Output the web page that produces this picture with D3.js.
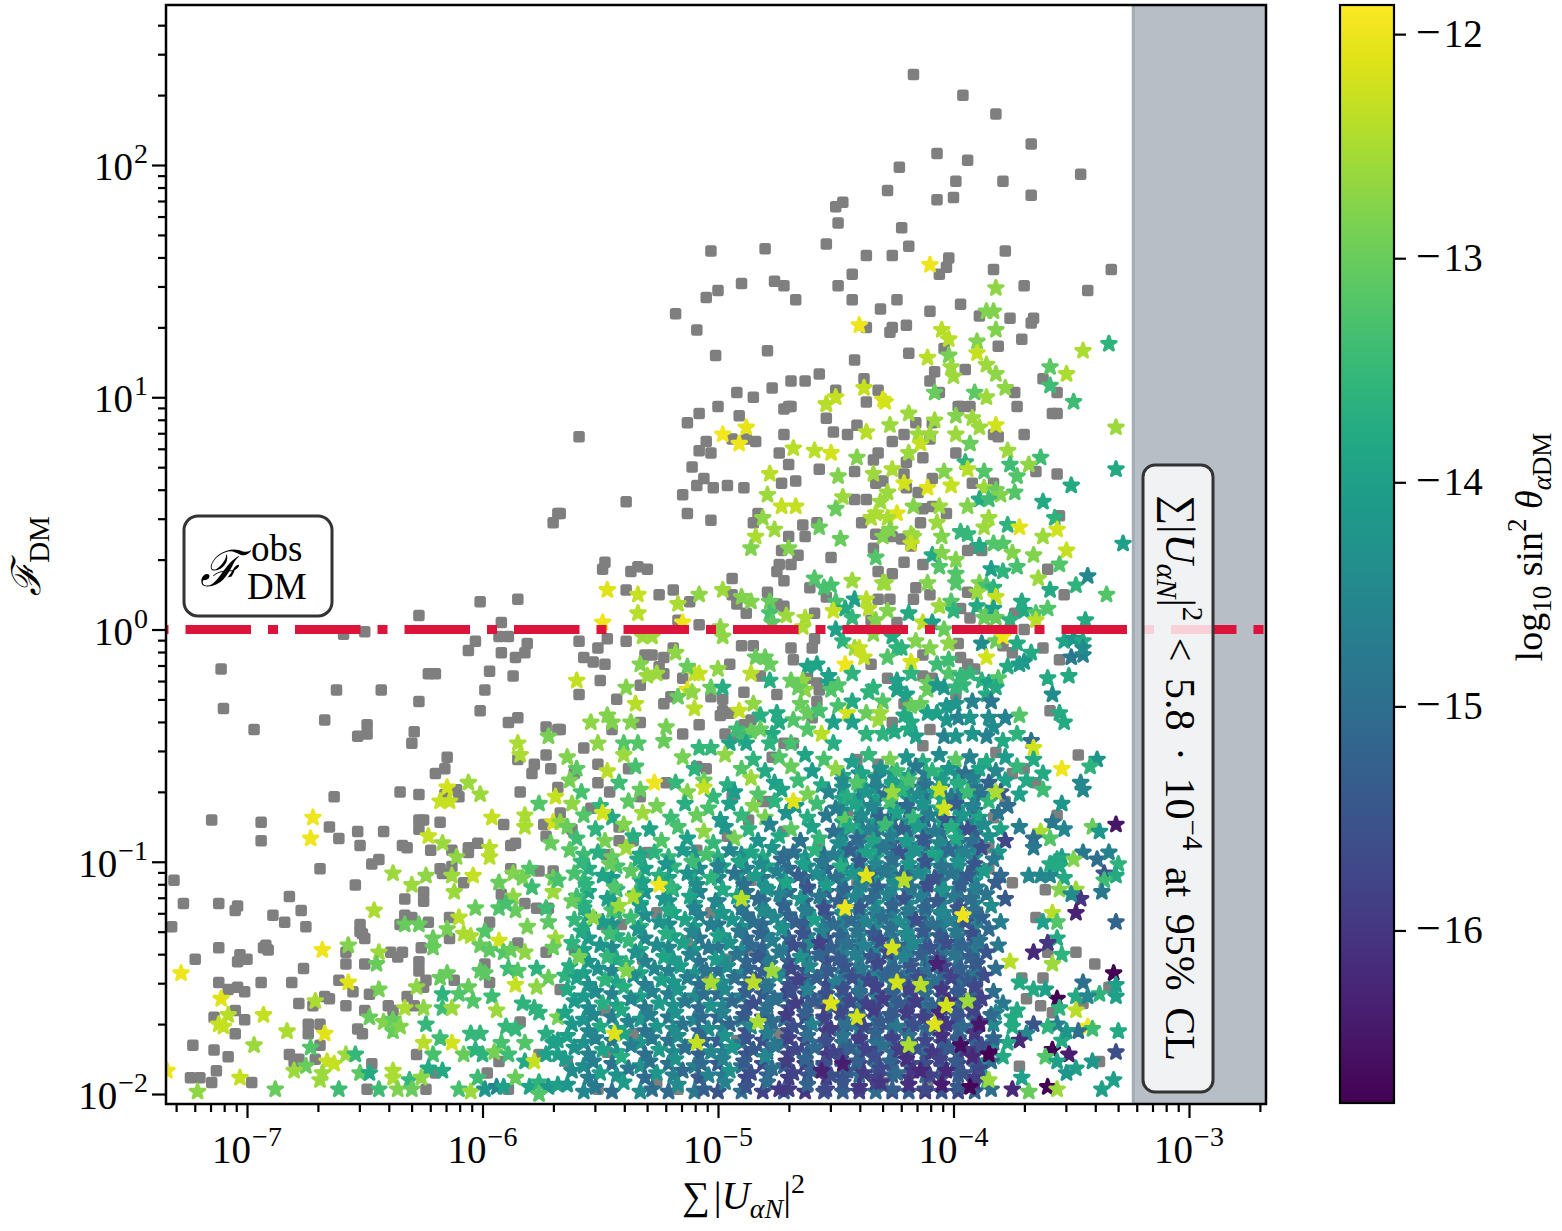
<!DOCTYPE html>
<html>
<head>
<meta charset="utf-8">
<title>F_DM vs sum |U|^2</title>
<style>
  html, body { margin: 0; padding: 0; background: #fff; }
  text { font-family: "Liberation Serif", "DejaVu Serif", serif; fill: #000; }
</style>
</head>
<body>
<script src="https://d3js.org/d3.v7.min.js"></script>
<script>
// ---- data (log10 values) ----
// grey squares: [log10 sum|U|^2, log10 F_DM]
var greySquares = [
 [-4.17,2.39],[-3.96,2.30],[-3.82,2.22],[-3.67,2.09],[-4.07,2.05],[-3.94,2.02],[-4.23,1.99],[-3.99,1.93],[-3.79,1.93],[-3.46,1.96],
 [-4.28,1.89],[-4.07,1.85],[-4.00,1.86],[-3.67,1.87],[-4.47,1.84],[-4.50,1.82],[-4.49,1.75],[-4.22,1.73],[-4.54,1.66],[-4.19,1.65],
 [-4.26,1.61],[-4.37,1.61],[-4.02,1.60],[-4.03,1.56],[-4.06,1.53],[-3.83,1.55],[-3.78,1.63],[-5.03,1.63],[-4.80,1.64],[-4.43,1.53],
 [-3.33,1.55],[-3.70,1.48],[-3.43,1.46],[-4.90,1.49],[-4.76,1.50],[-4.72,1.48],[-5.00,1.46],[-5.05,1.43],[-4.67,1.42],[-4.49,1.48],
 [-4.43,1.42],[-4.24,1.42],[-4.31,1.38],[-4.10,1.37],[-3.97,1.40],[-3.89,1.35],[-3.76,1.34],[-3.66,1.34],[-3.67,1.32],[-5.18,1.36],
 [-5.09,1.29],[-4.37,1.30],[-4.26,1.30],[-4.27,1.28],[-4.20,1.31],[-3.71,1.25],[-3.81,1.22],[-5.01,1.18],[-4.79,1.20],[-4.42,1.16],
 [-4.19,1.19],[-4.04,1.21],[-3.95,1.12],[-4.08,1.11],[-4.10,1.07],[-4.06,1.02],[-3.62,1.08],[-3.56,1.02],[-3.74,1.02],[-4.57,1.10],
 [-4.63,1.07],[-4.69,1.07],[-4.77,1.04],[-4.92,1.02],[-4.85,1.00],[-4.38,1.08],[-4.32,1.03],[-4.50,1.03],[-4.37,0.98],[-3.98,0.96],
 [-3.93,0.96],[-3.73,0.96],[-5.00,0.96],[-4.70,0.96],
 [-5.68,0.50],[-5.70,0.46],[-6.01,0.12],[-5.85,0.13],[-6.27,0.06],[-5.92,0.03],[-6.59,-0.02],[-6.50,-0.01],[-6.03,-0.05],[-5.93,-0.03],
 [-5.89,-0.03],[-5.81,-0.06],[-6.06,-0.09],[-5.92,-0.10],[-5.86,-0.12],[-5.82,-0.10],[-7.11,-0.17],[-5.97,-0.18],[-5.87,-0.20],[-6.23,-0.19],
 [-6.20,-0.19],[-6.62,-0.26],[-6.43,-0.26],[-5.99,-0.26],[-6.27,-0.31],[-7.10,-0.34],[-6.01,-0.35],[-6.67,-0.39],[-6.97,-0.43],[-6.49,-0.41],
 [-6.53,-0.46],[-6.49,-0.45],[-6.29,-0.44],[-6.30,-0.49],[-5.89,-0.40],[-5.85,-0.38],[-5.73,-0.42],[-5.68,-0.43],
 [-6.15,-0.55],[-6.20,-0.62],[-6.16,-0.60],[-5.85,-0.56],[-5.78,-0.58],[-5.79,-0.62],[-5.73,-0.54],[-5.71,-0.60],[-6.35,-0.70],[-6.27,-0.71],
 [-6.63,-0.72],[-6.11,-0.69],[-6.10,-0.72],[-6.16,-0.71],[-5.84,-0.70],[-5.68,-0.68],[-7.15,-0.82],[-6.94,-0.83],[-6.94,-0.91],[-6.65,-0.85],
 [-6.61,-0.90],[-6.53,-0.87],[-6.52,-0.93],[-6.42,-0.87],[-6.27,-0.82],[-6.25,-0.82],[-6.27,-0.86],[-6.18,-0.83],[-6.34,-0.93],[-6.32,-0.94],
 [-6.22,-0.95],[-6.13,-0.95],[-6.06,-0.94],[-6.06,-0.96],[-6.02,-0.92],[-5.91,-0.84],[-5.74,-0.84],[-5.73,-0.89],[-5.88,-0.93],[-5.86,-0.92],
 [-5.67,-0.79],[-6.47,-1.01],[-6.44,-0.99],[-6.69,-1.03],[-6.54,-1.10],[-6.18,-1.03],[-6.17,-1.05],[-6.13,-1.02],[-6.08,-1.09],[-5.88,-1.03],
 [-5.76,-1.04],[-5.70,-1.04],[-7.31,-1.08],[-7.27,-1.18],[-7.12,-1.18],[-7.04,-1.19],[-7.05,-1.21],[-6.82,-1.15],[-6.77,-1.21],[-6.89,-1.23],
 [-6.84,-1.26],[-6.75,-1.28],[-7.32,-1.28],[-6.33,-1.16],[-6.25,-1.13],[-6.25,-1.17],[-5.92,-1.14],[-5.82,-1.18],[-5.77,-1.20],[-5.72,-1.20],
 [-6.52,-1.27],[-6.52,-1.30],[-6.50,-1.33],[-6.51,-1.31],[-6.35,-1.27],[-6.30,-1.24],[-6.33,-1.23],[-6.23,-1.26],[-6.14,-1.24],[-6.14,-1.33],
 [-5.97,-1.26],[-5.85,-1.35],[-5.73,-1.39],[-7.12,-1.37],[-7.22,-1.42],[-7.04,-1.43],[-7.00,-1.42],[-7.03,-1.40],[-6.93,-1.37],[-6.91,-1.38],
 [-6.92,-1.36],[-6.76,-1.46],[-6.58,-1.39],[-6.58,-1.44],[-6.50,-1.44],[-6.39,-1.39],[-6.34,-1.39],[-6.36,-1.41],[-6.26,-1.37],[-6.27,-1.43],
 [-6.27,-1.47],[-5.99,-1.44],[-5.97,-1.52],[-7.12,-1.52],[-7.08,-1.55],[-7.04,-1.54],[-7.01,-1.56],[-6.94,-1.52],[-6.81,-1.52],[-6.61,-1.51],
 [-6.55,-1.56],[-6.67,-1.58],[-6.65,-1.59],[-6.48,-1.57],[-6.78,-1.61],[-6.72,-1.62],[-6.58,-1.62],[-6.50,-1.64],[-6.40,-1.62],[-6.38,-1.64],
 [-6.32,-1.58],[-6.29,-1.62],[-6.25,-1.54],[-6.24,-1.51],[-6.12,-1.51],[-7.05,-1.64],[-7.14,-1.67],[-7.01,-1.68],[-7.05,-1.74],[-6.74,-1.70],
 [-6.74,-1.74],[-6.69,-1.70],[-6.53,-1.72],[-6.51,-1.74],[-7.23,-1.79],[-7.14,-1.81],[-7.08,-1.84],[-6.69,-1.79],[-6.82,-1.83],[-6.78,-1.85],
 [-6.80,-1.86],[-7.24,-1.93],[-7.20,-1.93],[-7.13,-1.90],[-7.15,-1.95],[-6.98,-1.95],[-6.71,-1.85],[-6.47,-1.87],[-6.28,-1.83],[-6.20,-1.91],
 [-6.24,-1.98],[-6.49,-1.98],[-5.98,-1.91],[-5.89,-1.98],[-5.93,-1.86],[-5.84,-1.69],[-5.76,-1.83],
 [-5.59,0.83],[-5.13,0.89],[-5.08,0.93],[-4.91,0.92],[-5.05,0.81],[-5.08,0.77],[-5.03,0.76],[-4.94,0.82],[-4.88,0.82],[-4.84,0.81],
 [-5.11,0.70],[-5.06,0.65],[-5.09,0.62],[-5.02,0.61],[-4.96,0.62],[-4.89,0.61],[-5.15,0.58],[-5.39,0.55],[-5.67,0.50],[-5.13,0.50],
 [-5.03,0.47],[-4.74,0.76],[-4.72,0.84],[-4.72,0.95],[-4.69,0.96],[-4.54,0.91],[-4.51,0.85],[-4.45,0.84],[-4.41,0.88],[-4.70,0.71],
 [-4.73,0.63],[-4.67,0.64],[-4.57,0.69],[-4.83,0.50],[-4.85,0.46],[-4.64,0.45],[-4.70,0.40],[-4.63,0.40],[-4.58,0.46],[-4.42,0.56],
 [-4.42,0.68],[-4.73,0.34],[-4.66,0.32],[-4.74,0.28],[-4.69,0.28],[-4.75,0.25],[-4.72,0.21],[-4.52,0.31],[-5.48,0.29],[-5.49,0.26],
 [-5.37,0.25],[-5.34,0.27],[-5.30,0.26],[-5.39,0.17],[-5.25,0.15],[-5.19,0.17],[-5.12,0.12],[-4.94,0.22],[-4.94,0.15],[-4.79,0.16],
 [-4.92,0.11],[-4.88,0.07],[-4.75,0.11],[-4.72,0.10],[-4.61,0.18],[-4.54,0.14],[-4.59,0.07],[-5.17,0.04],[-5.08,0.02],[-5.59,-0.05],
 [-5.47,-0.04],[-5.39,-0.05],[-5.51,-0.08],[-5.57,-0.12],[-5.53,-0.14],[-5.48,-0.15],[-5.31,-0.11],[-5.28,-0.11],[-5.23,-0.12],[-5.19,-0.08],
 [-5.25,-0.16],[-5.23,-0.19],[-5.15,-0.21],[-4.90,-0.07],[-4.85,-0.07],[-4.69,-0.08],[-4.60,-0.08],[-4.59,-0.04],[-4.95,-0.15],[-4.68,-0.13],
 [-4.82,-0.20],[-4.62,-0.21],[-4.58,-0.23],[-4.57,-0.26],[-5.50,-0.22],[-5.33,-0.24],[-5.59,-0.28],[-5.43,-0.30],[-5.23,-0.32],[-5.20,-0.29],
 [-5.03,-0.29],[-4.98,-0.30],[-4.89,-0.27],[-4.75,-0.28],[-4.98,-0.35],[-4.99,-0.37],[-4.95,-0.36],[-5.08,-0.41],[-5.15,-0.45],[-4.97,-0.45],
 [-5.45,-0.43],[-5.33,-0.40],[-5.67,-0.43],[-5.57,-0.51],[-4.92,-0.46],[-4.86,-0.39],[-4.89,-0.41],[-4.72,-0.49],[-4.68,-0.49],[-4.60,-0.38],
 [-4.58,-0.31],
 [-3.97,0.96],[-3.58,0.93],[-3.56,0.93],[-4.16,0.89],[-4.21,0.84],[-4.26,0.81],[-4.10,0.82],[-4.09,0.89],[-3.83,0.84],[-3.81,0.83],
 [-3.70,0.84],[-3.99,0.76],[-4.32,0.76],[-4.34,0.73],[-4.20,0.72],[-4.13,0.74],[-4.30,0.64],[-4.33,0.63],[-4.21,0.67],[-4.09,0.65],
 [-3.92,0.63],[-3.83,0.63],[-3.65,0.68],[-3.56,0.67],[-4.15,0.59],[-4.37,0.56],[-4.20,0.61],[-4.13,0.52],[-4.09,0.53],[-4.03,0.50],
 [-4.14,0.46],[-4.39,0.46],[-3.55,0.49],[-4.33,0.41],[-4.26,0.40],[-4.22,0.39],[-4.18,0.36],[-4.34,0.35],[-3.94,0.34],[-3.91,0.35],
 [-3.88,0.34],[-4.21,0.29],[-4.13,0.28],[-4.32,0.25],[-4.26,0.24],[-3.60,0.26],[-4.16,0.18],[-4.10,0.15],[-4.32,0.13],[-4.27,0.13],
 [-4.17,0.13],[-3.94,0.16],[-3.53,0.15],[-3.97,0.09],[-3.93,0.05],[-3.74,0.07],[-4.35,0.04],[-4.24,0.03],[-3.70,0.00],[-3.98,-0.06],
 [-3.79,-0.07],[-3.75,-0.10],[-3.62,-0.08],[-3.55,-0.13],[-4.13,-0.11],[-3.97,-0.12],[-3.94,-0.15],[-4.35,-0.15],[-4.28,-0.21],[-4.13,-0.20],
 [-4.09,-0.21],[-3.91,-0.17],[-4.21,-0.32],[-3.99,-0.28],[-3.59,-0.35],[-4.26,-0.40],[-4.10,-0.43],[-4.13,-0.50],
 [-5.61,-0.62],[-5.51,-0.66],[-5.46,-0.70],[-5.51,-0.58],[-5.38,-0.60],[-5.33,-0.72],[-5.54,-0.77],[-5.62,-0.86],[-5.42,-0.85],[-5.42,-0.91],
 [-5.36,-0.91],[-5.30,-0.96],[-5.47,-0.97],[-5.09,-0.95],[-5.22,-0.66],[-5.09,-0.59],[-5.05,-0.60],[-4.94,-0.72],[-4.81,-0.74],[-4.78,-0.74],
 [-4.87,-0.82],[-4.96,-0.89],[-4.86,-1.08],[-4.72,-0.87],[-4.57,-0.92],[-4.45,-0.79],[-4.41,-0.56],[-4.77,-0.55],[-5.41,-1.27],[-5.61,-1.38],
 [-5.49,-1.27],[-5.32,-1.42],[-5.67,-1.55],[-5.48,-1.64],[-5.36,-1.74],[-5.26,-1.22],[-5.13,-1.34],[-5.03,-1.22],[-4.96,-1.42],[-4.86,-1.38],
 [-5.05,-1.48],[-4.57,-1.61],[-4.48,-1.63],[-5.08,-1.93],[-5.17,-1.98],[-5.51,-1.98],[-5.26,-1.95],[-5.64,-1.86],[-5.47,-1.82],[-5.30,-1.64],
 [-4.69,-1.46],[-4.74,-1.74],[-4.92,-1.77],[-4.48,-1.37],[-4.41,-1.09],
 [-3.47,-0.54],[-3.70,-0.60],[-3.75,-0.62],[-3.65,-0.66],[-3.91,-0.63],[-3.82,-0.53],[-4.21,-0.67],[-4.13,-0.66],[-4.32,-0.58],[-3.78,-0.74],
 [-3.83,-0.81],[-3.56,-0.80],[-4.37,-0.88],[-3.85,-0.94],[-3.85,-1.03],[-3.75,-1.09],[-3.61,-1.12],[-3.65,-1.24],[-3.48,-1.39],[-3.40,-1.44],
 [-3.60,-1.39],[-3.71,-1.50],[-3.62,-1.50],[-3.69,-1.59],[-3.63,-1.62],[-3.58,-1.65],[-3.45,-1.61],[-3.34,-1.54],[-3.38,-1.86],[-3.72,-1.88],
 [-3.91,-1.35],[-4.11,-1.64],[-4.04,-1.37],[-4.22,-1.38],[-4.38,-1.10],[-4.30,-1.95],[-4.11,-1.95],[-3.90,-1.55]
];

// stars: [log10 sum|U|^2, log10 F_DM, log10 sin^2 theta]
var sparseStars = [
 [-4.10,1.57,-12.0],[-4.40,1.31,-12.0],[-3.82,1.47,-12.7],[-3.86,1.37,-12.8],[-3.83,1.37,-12.8],[-4.05,1.29,-12.4],[-4.02,1.25,-12.4],[-3.90,1.24,-12.8],
 [-3.90,1.19,-12.3],[-3.82,1.29,-12.8],[-3.45,1.20,-12.5],[-3.34,1.23,-13.6],[-4.11,1.17,-12.4],[-4.02,1.18,-12.9],[-4.01,1.13,-12.6],[-4.00,1.09,-12.6],
 [-3.86,1.14,-12.6],[-3.82,1.10,-12.7],[-3.59,1.13,-13.1],[-3.52,1.10,-12.5],[-3.59,1.05,-13.4],[-3.78,1.04,-12.7],[-3.91,1.02,-13.1],[-3.86,1.00,-12.6],
 [-4.08,1.02,-13.0],[-3.49,0.98,-13.4],[-4.38,1.04,-12.3],[-4.50,1.00,-12.3],[-4.54,0.97,-12.4],[-4.30,0.99,-12.1],
 [-5.85,-0.49,-12.5],[-5.72,-0.46,-12.9],
 [-6.72,-0.81,-12.0],[-6.73,-0.90,-12.0],[-6.15,-0.68,-12.2],[-6.18,-0.74,-12.3],[-6.14,-0.74,-12.3],[-6.06,-0.66,-12.6],[-6.01,-0.71,-12.6],[-5.84,-0.54,-12.5],
 [-5.69,-0.72,-12.3],[-5.76,-0.75,-13.2],[-5.96,-0.81,-12.3],[-5.82,-0.80,-12.5],[-5.82,-0.85,-12.5],[-5.70,-0.83,-12.2],[-5.67,-0.83,-12.7],[-5.71,-0.92,-13.0],
 [-6.23,-0.89,-12.3],[-6.17,-0.92,-12.6],[-6.11,-0.98,-12.7],[-5.97,-0.94,-12.4],[-5.97,-0.98,-12.4],[-6.38,-1.05,-12.6],[-6.30,-1.10,-12.6],[-6.24,-1.06,-12.7],
 [-6.13,-1.06,-12.6],[-6.04,-1.06,-12.3],[-6.12,-1.13,-12.6],[-5.93,-1.09,-13.0],[-5.87,-1.05,-12.8],[-5.80,-1.03,-13.2],[-5.83,-1.07,-12.9],[-5.79,-1.11,-13.4],
 [-5.87,-1.15,-12.7],[-5.70,-1.07,-13.0],[-5.70,-1.13,-12.6],[-5.68,-1.08,-13.3],[-6.46,-1.21,-12.5],[-6.03,-1.20,-13.0],[-6.10,-1.24,-12.4],[-5.93,-1.20,-13.2],
 [-5.86,-1.21,-13.0],[-5.90,-1.18,-13.3],[-5.73,-1.20,-13.4],[-5.72,-1.26,-13.1],[-6.33,-1.27,-13.0],[-6.27,-1.27,-13.0],[-6.15,-1.29,-12.9],[-6.08,-1.31,-12.5],
 [-6.05,-1.32,-12.5],[-6.21,-1.33,-13.0],[-6.21,-1.37,-13.0],[-5.99,-1.30,-13.2],[-5.93,-1.34,-12.2],[-6.01,-1.36,-13.0],[-5.97,-1.38,-13.1],[-5.91,-1.39,-13.2],
 [-5.88,-1.38,-13.0],[-5.81,-1.28,-12.9],[-5.69,-1.33,-12.6],[-5.70,-1.37,-13.0],[-5.82,-1.39,-12.7],[-6.57,-1.36,-12.8],[-6.68,-1.38,-12.0],[-6.44,-1.39,-12.6],
 [-6.45,-1.44,-13.0],[-7.28,-1.48,-12.0],[-6.57,-1.52,-12.1],[-6.44,-1.55,-12.9],[-6.28,-1.54,-12.7],[-6.18,-1.50,-13.0],[-6.15,-1.48,-13.0],[-6.06,-1.54,-13.0],
 [-6.01,-1.47,-13.1],[-5.99,-1.48,-13.1],[-5.89,-1.46,-13.4],[-5.85,-1.47,-13.2],[-5.77,-1.46,-13.6],[-5.86,-1.53,-12.3],[-5.77,-1.54,-12.7],[-5.72,-1.50,-13.0],
 [-5.65,-1.49,-13.6],[-7.11,-1.59,-12.1],[-7.08,-1.66,-12.4],[-7.12,-1.70,-12.3],[-7.10,-1.71,-12.3],[-6.93,-1.66,-12.3],[-6.71,-1.60,-12.5],[-6.83,-1.73,-12.5],
 [-6.67,-1.74,-12.1],[-6.97,-1.79,-12.6],[-6.73,-1.80,-13.2],[-6.48,-1.67,-13.0],[-6.42,-1.69,-12.8],[-6.38,-1.68,-13.0],[-6.38,-1.73,-13.0],[-6.35,-1.71,-12.8],
 [-6.33,-1.63,-12.5],[-6.25,-1.63,-12.7],[-6.24,-1.70,-13.5],[-6.17,-1.57,-13.6],[-6.17,-1.63,-13.4],[-6.13,-1.63,-12.6],[-6.10,-1.57,-13.2],[-6.04,-1.60,-13.2],
 [-5.96,-1.58,-13.4],[-5.94,-1.64,-12.6],[-5.90,-1.71,-13.5],[-5.86,-1.72,-13.5],[-5.83,-1.61,-13.6],[-5.78,-1.63,-13.6],[-5.76,-1.65,-13.6],[-5.68,-1.67,-12.9],
 [-5.73,-1.74,-13.7],[-5.70,-1.78,-14.0],[-5.68,-1.77,-14.0],[-5.82,-1.78,-13.2],[-5.92,-1.78,-13.3],[-6.05,-1.74,-13.5],[-6.01,-1.74,-13.5],[-6.13,-1.78,-12.2],
 [-6.18,-1.76,-13.4],[-6.25,-1.78,-12.4],[-6.21,-1.83,-13.3],[-6.17,-1.90,-13.8],[-6.23,-1.89,-13.8],[-6.08,-1.83,-13.0],[-6.03,-1.81,-13.6],[-6.00,-1.83,-13.6],
 [-5.95,-1.82,-12.9],[-5.89,-1.83,-13.4],[-5.82,-1.86,-13.8],[-5.78,-1.86,-12.3],[-5.73,-1.83,-14.0],[-5.68,-1.83,-14.0],[-6.75,-1.88,-13.0],[-6.80,-1.90,-12.6],
 [-6.66,-1.86,-12.3],[-6.63,-1.87,-12.3],[-6.58,-1.83,-12.6],[-6.54,-1.83,-13.5],[-6.52,-1.91,-13.1],[-6.48,-1.91,-13.8],[-6.69,-1.94,-12.6],[-6.68,-1.91,-12.6],
 [-6.61,-1.98,-13.4],[-6.38,-1.90,-12.5],[-6.38,-1.93,-12.5],[-7.03,-1.93,-12.3],[-7.21,-1.99,-12.7],[-6.88,-1.98,-13.0],[-6.44,-1.98,-13.4],[-6.36,-1.98,-12.8],
 [-6.31,-1.94,-13.5],[-6.30,-1.98,-13.0],[-6.26,-1.93,-12.7],[-6.10,-1.98,-13.3],[-6.05,-1.99,-12.6],[-6.02,-1.93,-13.4],[-5.99,-1.98,-14.2],[-5.94,-1.97,-14.5],
 [-5.91,-1.97,-14.0],[-5.86,-1.93,-13.0],[-5.80,-1.97,-13.9],[-5.76,-1.95,-13.6],[-5.72,-1.97,-14.2],[-5.68,-1.96,-14.0],[-5.76,-2.00,-13.2],[-7.34,-1.90,-12.0],
 [-4.98,0.84,-11.95],[-4.88,0.87,-12.05],[-4.91,0.80,-12.0],[-4.68,0.78,-12.4],[-4.59,0.77,-12.4],[-4.52,0.76,-12.2],[-4.54,0.97,-12.4],[-4.41,0.74,-12.8],
 [-4.78,0.67,-12.4],[-4.49,0.66,-12.8],[-4.79,0.58,-12.6],[-4.73,0.53,-12.3],[-4.67,0.53,-12.3],[-4.47,0.57,-12.6],[-4.50,0.52,-13.0],[-4.81,0.48,-12.7],
 [-4.76,0.43,-12.6],[-4.84,0.40,-12.5],[-4.86,0.35,-12.8],[-4.70,0.35,-12.8],[-4.57,0.44,-13.0],[-4.48,0.39,-13.0],[-4.59,0.22,-13.2],[-4.52,0.19,-13.3],
 [-4.55,0.18,-13.3],[-4.43,0.21,-12.6],[-4.42,0.13,-14.0],[-4.50,0.12,-13.3],[-4.46,0.09,-13.8],[-4.43,0.05,-13.5],[-4.51,0.08,-12.3],[-5.47,0.17,-12.1],
 [-5.34,0.15,-12.3],[-5.34,0.07,-12.4],[-5.49,0.03,-12.0],[-5.17,0.11,-12.5],[-5.08,0.15,-12.7],[-4.98,0.17,-12.6],[-4.90,0.14,-12.8],[-4.86,0.12,-12.8],
 [-4.78,0.12,-13.0],[-4.78,0.07,-13.3],[-4.71,0.06,-12.6],[-4.63,0.05,-12.5],[-4.64,0.01,-12.5],[-4.77,0.03,-13.1],[-4.99,0.01,-12.7],[-4.98,-0.03,-12.7],
 [-5.15,0.03,-12.0],[-5.28,-0.03,-12.6],[-5.32,-0.03,-12.6],[-4.50,0.00,-14.0],[-4.47,-0.05,-13.6],[-4.42,-0.08,-12.6],[-4.46,-0.15,-12.0],[-4.43,-0.19,-13.6],
 [-4.62,-0.16,-13.9],[-4.58,-0.15,-13.9],[-4.53,-0.20,-14.0],[-4.53,-0.23,-14.0],[-4.49,-0.24,-13.2],[-4.52,-0.26,-13.2],[-4.64,-0.22,-12.7],[-4.63,-0.26,-12.7],
 [-4.69,-0.22,-13.0],[-4.66,-0.25,-13.0],[-4.78,-0.22,-13.7],[-4.84,-0.12,-13.0],[-4.80,-0.12,-13.0],[-4.78,-0.15,-13.0],[-4.86,-0.19,-12.4],[-5.03,-0.25,-13.0],
 [-4.98,-0.25,-13.7],[-5.00,-0.17,-12.7],[-5.10,-0.19,-12.3],[-5.08,-0.19,-12.3],[-5.13,-0.16,-13.0],[-5.18,-0.10,-12.7],[-5.33,-0.15,-12.8],[-5.30,-0.20,-12.6],
 [-5.26,-0.19,-12.6],[-5.39,-0.25,-12.8],[-5.60,-0.22,-12.3],[-5.13,-0.26,-12.1],[-5.11,-0.27,-12.7],[-5.17,-0.29,-13.0],[-5.35,-0.32,-12.4],[-5.10,-0.34,-12.4],
 [-4.91,-0.35,-12.3],[-4.85,-0.32,-12.7],[-4.82,-0.37,-13.7],[-4.75,-0.36,-13.8],[-4.65,-0.32,-13.0],[-4.62,-0.36,-13.0],[-4.57,-0.35,-13.3],[-4.49,-0.33,-13.3],
 [-4.45,-0.36,-12.2],[-4.43,-0.31,-13.8],[-4.51,-0.40,-14.0],[-4.43,-0.40,-14.0],[-4.56,-0.45,-12.4],[-4.68,-0.39,-13.2],[-4.62,-0.43,-13.2],[-4.74,-0.40,-13.8],
 [-4.77,-0.45,-13.8],[-4.82,-0.43,-13.0],[-4.86,-0.44,-13.0],[-4.92,-0.43,-13.4],[-4.89,-0.47,-13.4],[-4.95,-0.49,-13.9],[-4.88,-0.49,-13.9],[-5.47,-0.37,-12.8],
 [-5.45,-0.40,-12.8],[-5.54,-0.40,-12.7],[-5.37,-0.40,-12.8],[-5.22,-0.42,-12.9],[-5.23,-0.48,-13.0],[-5.34,-0.49,-13.2],[-5.40,-0.49,-13.2],[-5.51,-0.49,-12.7],
 [-5.08,-0.51,-13.5],[-5.03,-0.51,-13.5],[-4.78,-0.49,-13.6],[-4.69,-0.49,-13.3],[-4.51,-0.49,-13.7],
 [-4.29,0.98,-12.2],[-4.19,0.93,-12.6],[-4.27,0.88,-12.6],[-4.08,0.90,-12.6],[-3.99,0.92,-12.8],[-3.92,0.91,-12.6],[-3.89,0.87,-12.6],[-3.82,0.88,-12.2],
 [-4.37,0.85,-12.4],[-4.15,0.84,-12.6],[-4.14,0.80,-12.3],[-4.10,0.84,-12.6],[-3.99,0.84,-12.6],[-3.93,0.80,-13.0],[-3.77,0.77,-12.6],[-3.63,0.74,-13.4],
 [-3.31,0.87,-12.6],[-4.19,0.76,-12.6],[-3.95,0.72,-13.6],[-3.94,0.69,-12.4],[-3.76,0.71,-13.4],[-3.68,0.71,-12.7],[-3.73,0.66,-13.2],[-3.74,0.59,-13.2],
 [-4.26,0.69,-12.5],[-4.34,0.67,-12.6],[-4.21,0.63,-12.2],[-4.11,0.61,-12.1],[-4.01,0.62,-12.3],[-4.04,0.68,-12.8],[-3.87,0.68,-13.2],[-3.87,0.61,-12.6],
 [-3.82,0.60,-13.0],[-3.80,0.58,-12.8],[-3.89,0.56,-13.8],[-3.85,0.56,-13.4],[-4.28,0.59,-12.6],[-4.31,0.55,-12.6],[-4.17,0.53,-12.8],[-4.06,0.53,-12.6],
 [-3.94,0.53,-12.8],[-3.62,0.55,-13.8],[-3.50,0.62,-13.8],[-3.31,0.69,-13.8],[-4.24,0.50,-12.1],[-4.28,0.48,-12.5],[-4.35,0.48,-12.5],[-4.33,0.50,-12.5],
 [-4.07,0.46,-12.6],[-3.87,0.44,-12.6],[-3.85,0.48,-12.6],[-3.77,0.45,-13.6],[-3.72,0.44,-12.1],[-3.57,0.48,-13.6],[-3.56,0.43,-12.2],[-4.27,0.43,-12.8],
 [-4.30,0.40,-12.8],[-4.18,0.41,-12.6],[-4.17,0.40,-12.6],[-4.18,0.37,-12.3],[-4.05,0.40,-12.8],[-3.97,0.42,-13.5],[-3.94,0.41,-13.5],[-3.89,0.36,-13.8],
 [-3.83,0.37,-13.2],[-3.79,0.37,-13.2],[-3.75,0.33,-12.8],[-3.66,0.32,-12.8],[-3.62,0.40,-12.6],[-3.52,0.34,-12.3],[-3.55,0.28,-13.2],[-3.28,0.37,-14.0],
 [-4.33,0.31,-13.2],[-4.09,0.32,-13.8],[-4.05,0.33,-12.8],[-4.06,0.27,-13.2],[-3.99,0.30,-12.8],[-3.84,0.26,-14.0],[-3.79,0.25,-13.6],[-3.73,0.27,-13.3],
 [-3.64,0.22,-12.6],[-3.99,0.24,-13.2],[-3.99,0.20,-13.2],[-4.11,0.20,-12.8],[-4.30,0.20,-12.6],[-4.29,0.20,-12.6],[-3.89,0.20,-12.8],[-3.86,0.19,-13.3],
 [-3.83,0.18,-13.6],[-3.90,0.16,-12.6],[-3.82,0.14,-12.3],[-3.59,0.17,-13.8],[-3.48,0.19,-13.6],[-3.43,0.23,-14.5],[-3.35,0.15,-13.2],[-4.37,0.13,-12.4],
 [-4.36,0.09,-12.4],[-4.28,0.08,-12.8],[-4.19,0.07,-13.8],[-4.06,0.10,-12.6],[-4.01,0.12,-13.2],[-4.00,0.08,-13.6],[-3.90,0.10,-13.8],[-3.86,0.07,-13.2],
 [-3.83,0.09,-14.0],[-3.71,0.12,-13.8],[-3.70,0.08,-13.8],[-3.65,0.07,-13.2],[-3.60,0.09,-13.2],[-3.87,0.05,-13.0],[-3.82,0.05,-13.0],[-3.76,0.04,-13.6],
 [-3.65,0.04,-12.4],[-3.44,0.04,-13.8],[-4.33,0.04,-12.8],[-4.34,-0.02,-12.8],[-4.26,-0.03,-13.8],[-4.24,-0.08,-13.6],[-4.22,-0.08,-13.6],[-4.16,-0.05,-12.8],
 [-4.13,0.03,-12.4],[-4.09,0.03,-14.0],[-4.04,0.00,-13.0],[-4.10,-0.08,-12.8],[-4.02,-0.06,-12.7],[-3.88,-0.06,-14.4],[-3.82,-0.05,-13.0],[-3.79,-0.03,-12.0],
 [-3.73,-0.06,-13.8],[-3.67,-0.10,-13.8],[-3.70,-0.14,-14.2],[-3.53,-0.05,-13.9],[-3.49,-0.04,-14.2],[-3.45,-0.05,-13.8],[-3.50,-0.12,-14.8],[-3.45,-0.11,-14.6],
 [-3.45,-0.08,-14.4],[-4.38,-0.12,-12.3],[-4.40,-0.08,-12.3],[-4.28,-0.12,-13.2],[-4.18,-0.14,-12.2],[-4.18,-0.19,-13.6],[-4.07,-0.15,-13.4],[-4.02,-0.13,-13.4],
 [-3.86,-0.12,-12.2],[-3.77,-0.16,-13.8],[-3.72,-0.15,-14.1],[-4.02,-0.19,-13.2],[-3.97,-0.20,-13.5],[-3.93,-0.19,-13.5],[-3.88,-0.22,-13.6],[-3.85,-0.23,-14.0],
 [-3.81,-0.21,-13.2],[-3.60,-0.21,-13.8],[-3.51,-0.20,-13.8],[-4.24,-0.22,-14.0],[-4.24,-0.26,-14.0],[-4.20,-0.28,-14.0],[-4.11,-0.23,-13.0],[-4.11,-0.26,-13.0],
 [-4.07,-0.24,-14.2],[-4.04,-0.25,-14.2],[-3.99,-0.25,-13.5],[-3.96,-0.24,-13.5],[-3.86,-0.28,-13.8],[-3.82,-0.25,-13.8],[-4.36,-0.27,-13.6],[-4.34,-0.25,-13.6],
 [-3.58,-0.28,-14.4],[-3.92,-0.31,-14.6],[-3.84,-0.31,-14.8],[-4.30,-0.31,-13.2],[-4.18,-0.33,-13.0],[-4.14,-0.32,-13.0],[-4.03,-0.33,-14.2],[-3.99,-0.32,-14.2],
 [-3.55,-0.36,-13.8],[-3.53,-0.40,-13.8],[-4.37,-0.36,-13.0],[-4.31,-0.36,-12.6],[-4.32,-0.39,-12.6],[-4.21,-0.37,-13.8],[-4.18,-0.40,-13.8],[-4.11,-0.36,-14.0],
 [-4.07,-0.36,-14.0],[-4.03,-0.39,-14.2],[-3.98,-0.38,-14.6],[-3.93,-0.38,-14.2],[-3.85,-0.38,-14.4],[-3.83,-0.42,-14.4],[-3.78,-0.38,-14.6],[-3.72,-0.37,-13.2],
 [-3.73,-0.45,-13.6],[-3.67,-0.48,-15.0],[-4.37,-0.45,-13.6],[-4.30,-0.45,-13.6],[-4.25,-0.44,-13.8],[-4.19,-0.43,-13.8],[-4.16,-0.46,-14.0],[-4.04,-0.46,-14.6],
 [-3.99,-0.46,-14.2],[-3.92,-0.45,-14.2],[-3.86,-0.46,-14.6],[-3.79,-0.48,-13.8],[-3.66,-0.51,-12.2],
 [-3.54,-0.60,-12.0],[-3.39,-0.56,-14.2],[-3.42,-0.59,-13.6],[-3.46,-0.66,-14.5],[-3.45,-0.69,-14.5],[-3.54,-0.75,-14.2],[-3.62,-0.62,-13.8],[-3.66,-0.56,-13.8],
 [-3.69,-0.65,-13.8],[-3.62,-0.69,-13.4],[-3.31,-0.84,-16.5],[-3.41,-0.85,-13.0],[-3.38,-0.87,-14.2],[-3.58,-0.83,-14.8],[-3.53,-0.86,-14.5],[-3.63,-0.87,-12.5],
 [-3.59,-0.90,-13.2],[-3.66,-0.90,-15.0],[-3.66,-0.94,-14.8],[-3.45,-0.96,-14.8],[-3.39,-0.99,-15.0],[-3.34,-0.96,-14.6],[-3.30,-1.01,-13.6],[-3.36,-1.05,-15.5],
 [-3.31,-1.06,-13.8],[-3.36,-1.08,-13.4],[-3.37,-1.13,-14.8],[-3.54,-0.98,-14.0],[-3.49,-0.99,-12.8],[-3.55,-1.02,-13.8],[-3.53,-1.07,-13.8],[-3.59,-1.06,-14.5],
 [-3.63,-1.06,-14.5],[-3.68,-1.06,-14.5],[-3.56,-0.99,-13.8],[-3.59,-1.01,-13.8],[-3.48,-1.12,-12.6],[-3.55,-1.12,-12.8],[-3.46,-1.16,-16.0],[-3.48,-1.22,-16.3],
 [-3.50,-1.14,-14.4],[-3.58,-1.22,-12.4],[-3.56,-1.26,-13.2],[-3.62,-1.26,-14.0],[-3.31,-1.26,-15.2],[-3.56,-1.33,-13.8],[-3.60,-1.35,-16.0],[-3.66,-1.39,-16.2],
 [-3.54,-1.40,-13.6],[-3.58,-1.44,-12.6],[-3.32,-1.48,-16.8],[-3.31,-1.53,-14.0],[-3.45,-1.52,-15.0],[-3.38,-1.57,-13.6],[-3.31,-1.58,-14.0],[-3.48,-1.58,-13.8],
 [-3.43,-1.58,-14.5],[-3.56,-1.59,-16.8],[-3.55,-1.63,-13.6],[-3.48,-1.64,-12.4],[-3.61,-1.55,-14.0],[-3.66,-1.55,-13.8],[-3.72,-1.52,-13.8],[-3.43,-1.71,-12.0],
 [-3.41,-1.72,-13.4],[-3.47,-1.73,-15.0],[-3.30,-1.73,-13.8],[-3.31,-1.82,-15.6],[-3.41,-1.86,-14.2],[-3.51,-1.83,-16.4],[-3.48,-1.89,-14.0],[-3.52,-1.91,-14.2],
 [-3.58,-1.81,-16.8],[-3.61,-1.84,-13.2],[-3.56,-1.86,-14.0],[-3.60,-1.97,-17.0],[-3.56,-1.98,-12.6],[-3.68,-1.99,-13.0],[-3.75,-1.98,-16.2],[-3.71,-1.93,-14.0],
 [-3.37,-1.98,-14.0],[-3.32,-1.94,-14.0],[-3.54,-1.77,-13.8],[-3.52,-1.73,-14.2],[-3.56,-1.70,-14.6],[-3.60,-1.71,-13.6],[-3.66,-1.70,-15.5],[-3.69,-1.74,-14.5],
 [-3.72,-1.77,-16.2],[-3.75,-1.71,-13.8],[-3.75,-1.67,-13.8],[-3.73,-1.64,-13.8],[-3.79,-1.61,-14.8],[-3.82,-1.65,-14.5],[-3.83,-1.70,-14.5],[-3.77,-1.78,-13.8],
 [-3.79,-1.84,-13.8],[-3.83,-1.78,-14.5],[-3.85,-1.82,-16.8],[-3.88,-1.88,-14.2],[-3.86,-1.95,-13.6]
];

// stars filling the gaps of the crowded block (drawn underneath it)
var gapStarsLeft = [
 [-5.57,-0.97,-13.4],[-5.45,-0.98,-13.0],[-5.33,-0.97,-13.9],[-5.21,-0.98,-13.5],[-5.10,-0.97,-14.2],[-5.00,-0.98,-13.7],[-4.90,-0.97,-14.4],[-4.81,-0.98,-13.8],[-4.72,-0.97,-14.9],[-4.63,-0.98,-14.3],[-4.55,-0.97,-15.0],
 [-5.55,-1.03,-13.7],[-5.43,-1.02,-13.3],[-5.31,-1.03,-14.0],[-5.19,-1.02,-13.6],[-5.08,-1.03,-14.4],[-4.98,-1.02,-13.9],[-4.88,-1.03,-14.6],[-4.79,-1.02,-14.0],[-4.70,-1.03,-15.1],[-4.62,-1.02,-14.5],[-4.54,-1.03,-15.2],
 [-5.57,-1.08,-13.5],[-5.45,-1.07,-14.1],[-5.33,-1.08,-13.4],[-5.21,-1.07,-14.0],[-5.10,-1.08,-13.8],[-5.00,-1.07,-14.5],[-4.90,-1.08,-14.1],[-4.81,-1.07,-14.8],[-4.72,-1.08,-14.4],[-4.63,-1.07,-15.0],[-4.55,-1.08,-14.6],
 [-5.55,-1.13,-13.9],[-5.43,-1.12,-13.5],[-5.31,-1.13,-14.2],[-5.19,-1.12,-13.8],[-5.08,-1.13,-14.6],[-4.98,-1.12,-14.0],[-4.88,-1.13,-14.8],[-4.79,-1.12,-14.3],[-4.70,-1.13,-15.0],[-4.62,-1.12,-14.6],[-4.54,-1.13,-15.3],
 [-5.57,-1.18,-13.6],[-5.45,-1.17,-14.2],[-5.33,-1.18,-13.7],[-5.21,-1.17,-14.3],[-5.10,-1.18,-14.0],[-5.00,-1.17,-14.7],[-4.90,-1.18,-14.2],[-4.81,-1.17,-15.0],[-4.72,-1.18,-14.5],[-4.63,-1.17,-15.2],[-4.55,-1.18,-14.7],
 [-5.55,-1.23,-14.0],[-5.43,-1.22,-13.6],[-5.31,-1.23,-14.4],[-5.19,-1.22,-13.9],[-5.08,-1.23,-14.7],[-4.98,-1.22,-14.1],[-4.88,-1.23,-15.0],[-4.79,-1.22,-14.5],[-4.70,-1.23,-15.2],[-4.62,-1.22,-14.8],[-4.54,-1.23,-15.4],
 [-5.57,-1.28,-13.8],[-5.45,-1.27,-14.3],[-5.33,-1.28,-13.6],[-5.21,-1.27,-14.4],[-5.10,-1.28,-14.1],[-5.00,-1.27,-14.8],[-4.90,-1.28,-14.3],[-4.81,-1.27,-15.1],[-4.72,-1.28,-14.6],[-4.63,-1.27,-15.3],[-4.55,-1.28,-14.8],
 [-5.55,-1.33,-14.1],[-5.43,-1.32,-13.7],[-5.31,-1.33,-14.5],[-5.19,-1.32,-14.0],[-5.08,-1.33,-14.8],[-4.98,-1.32,-14.2],[-4.88,-1.33,-15.1],[-4.79,-1.32,-14.6],[-4.70,-1.33,-15.3],[-4.62,-1.32,-14.9],[-4.54,-1.33,-15.5],
 [-5.57,-1.38,-13.9],[-5.45,-1.37,-14.4],[-5.33,-1.38,-13.8],[-5.21,-1.37,-14.5],[-5.10,-1.38,-14.2],[-5.00,-1.37,-14.9],[-4.90,-1.38,-14.4],[-4.81,-1.37,-15.2],[-4.72,-1.38,-14.7],[-4.63,-1.37,-15.4],[-4.55,-1.38,-14.9],
 [-5.55,-1.43,-14.2],[-5.43,-1.42,-13.8],[-5.31,-1.43,-14.6],[-5.19,-1.42,-14.1],[-5.08,-1.43,-14.9],[-4.98,-1.42,-14.3],[-4.88,-1.43,-15.2],[-4.79,-1.42,-14.7],[-4.70,-1.43,-15.4],[-4.62,-1.42,-15.0],[-4.54,-1.43,-15.6],
 [-5.57,-1.48,-14.0],[-5.45,-1.47,-14.5],[-5.33,-1.48,-13.9],[-5.21,-1.47,-14.6],[-5.10,-1.48,-14.3],[-5.00,-1.47,-15.0],[-4.90,-1.48,-14.5],[-4.81,-1.47,-15.3],[-4.72,-1.48,-14.8],[-4.63,-1.47,-15.5],[-4.55,-1.48,-15.0],
 [-5.55,-1.53,-14.3],[-5.43,-1.52,-13.9],[-5.31,-1.53,-14.7],[-5.19,-1.52,-14.2],[-5.08,-1.53,-15.0],[-4.98,-1.52,-14.4],[-4.88,-1.53,-15.3],[-4.79,-1.52,-14.8],[-4.70,-1.53,-15.5],[-4.62,-1.52,-15.1],[-4.54,-1.53,-15.7],
 [-5.57,-1.58,-14.1],[-5.45,-1.57,-14.6],[-5.33,-1.58,-14.0],[-5.21,-1.57,-14.7],[-5.10,-1.58,-14.4],[-5.00,-1.57,-15.1],[-4.90,-1.58,-14.6],[-4.81,-1.57,-15.4],[-4.72,-1.58,-14.9],[-4.63,-1.57,-15.6],[-4.55,-1.58,-15.1],
 [-5.55,-1.63,-14.4],[-5.43,-1.62,-14.0],[-5.31,-1.63,-14.8],[-5.19,-1.62,-14.3],[-5.08,-1.63,-15.1],[-4.98,-1.62,-14.5],[-4.88,-1.63,-15.4],[-4.79,-1.62,-14.9],[-4.70,-1.63,-15.6],[-4.62,-1.62,-15.2],[-4.54,-1.63,-15.8],
 [-5.57,-1.68,-14.2],[-5.45,-1.67,-14.7],[-5.33,-1.68,-14.1],[-5.21,-1.67,-14.8],[-5.10,-1.68,-14.5],[-5.00,-1.67,-15.2],[-4.90,-1.68,-14.7],[-4.81,-1.67,-15.5],[-4.72,-1.68,-15.0],[-4.63,-1.67,-15.7],[-4.55,-1.68,-15.2],
 [-5.55,-1.73,-14.5],[-5.43,-1.72,-14.1],[-5.31,-1.73,-14.9],[-5.19,-1.72,-14.4],[-5.08,-1.73,-15.2],[-4.98,-1.72,-14.6],[-4.88,-1.73,-15.5],[-4.79,-1.72,-15.0],[-4.70,-1.73,-15.7],[-4.62,-1.72,-15.3],[-4.54,-1.73,-15.9],
 [-5.57,-1.78,-14.3],[-5.45,-1.77,-14.8],[-5.33,-1.78,-14.2],[-5.21,-1.77,-14.9],[-5.10,-1.78,-14.6],[-5.00,-1.77,-15.3],[-4.90,-1.78,-14.8],[-4.81,-1.77,-15.6],[-4.72,-1.78,-15.1],[-4.63,-1.77,-15.8],[-4.55,-1.78,-15.3],
 [-5.55,-1.83,-14.6],[-5.43,-1.82,-14.2],[-5.31,-1.83,-15.0],[-5.19,-1.82,-14.5],[-5.08,-1.83,-15.3],[-4.98,-1.82,-14.7],[-4.88,-1.83,-15.6],[-4.79,-1.82,-15.1],[-4.70,-1.83,-15.8],[-4.62,-1.82,-15.4],[-4.54,-1.83,-16.0],
 [-5.57,-1.88,-14.4],[-5.45,-1.87,-14.9],[-5.33,-1.88,-14.3],[-5.21,-1.87,-15.0],[-5.10,-1.88,-14.7],[-5.00,-1.87,-15.4],[-4.90,-1.88,-14.9],[-4.81,-1.87,-15.7],[-4.72,-1.88,-15.2],[-4.63,-1.87,-15.9],[-4.55,-1.88,-15.4],
 [-5.55,-1.93,-14.7],[-5.43,-1.92,-14.3],[-5.31,-1.93,-15.1],[-5.19,-1.92,-14.6],[-5.08,-1.93,-15.4],[-4.98,-1.92,-14.8],[-4.88,-1.93,-15.7],[-4.79,-1.92,-15.2],[-4.70,-1.93,-15.9],[-4.62,-1.92,-15.5],[-4.54,-1.93,-16.0],
 [-5.57,-1.99,-14.5],[-5.45,-1.99,-15.0],[-5.33,-1.99,-14.4],[-5.21,-1.99,-15.1],[-5.10,-1.99,-14.8],[-5.00,-1.99,-15.5],[-4.90,-1.99,-15.0],[-4.81,-1.99,-15.8],[-4.72,-1.99,-15.3],[-4.63,-1.99,-16.0],[-4.55,-1.99,-15.5]
];

var gapStarsRight = [
 [-4.47,-0.63,-13.8],[-4.40,-0.62,-14.5],[-4.33,-0.63,-13.4],[-4.26,-0.62,-14.2],[-4.19,-0.63,-13.9],[-4.12,-0.62,-14.7],[-4.05,-0.63,-13.6],[-3.98,-0.62,-14.4],[-3.91,-0.63,-14.0],
 [-4.47,-0.68,-14.3],[-4.40,-0.67,-13.7],[-4.33,-0.68,-14.6],[-4.26,-0.67,-13.9],[-4.19,-0.68,-14.8],[-4.12,-0.67,-14.1],[-4.05,-0.68,-14.5],[-3.98,-0.67,-13.8],[-3.91,-0.68,-14.9],
 [-4.47,-0.73,-13.9],[-4.40,-0.72,-14.6],[-4.33,-0.73,-14.0],[-4.26,-0.72,-14.9],[-4.19,-0.73,-14.2],[-4.12,-0.72,-15.0],[-4.05,-0.73,-13.7],[-3.98,-0.72,-14.6],[-3.91,-0.73,-14.3],
 [-4.47,-0.78,-14.4],[-4.40,-0.77,-13.8],[-4.33,-0.78,-14.7],[-4.26,-0.77,-14.1],[-4.19,-0.78,-15.0],[-4.12,-0.77,-14.3],[-4.05,-0.78,-14.8],[-3.98,-0.77,-14.0],[-3.91,-0.78,-15.1],
 [-4.47,-0.83,-14.0],[-4.40,-0.82,-14.8],[-4.33,-0.83,-14.2],[-4.26,-0.82,-15.0],[-4.19,-0.83,-14.4],[-4.12,-0.82,-15.2],[-4.05,-0.83,-13.9],[-3.98,-0.82,-14.7],[-3.91,-0.83,-14.5],
 [-4.47,-0.88,-14.6],[-4.40,-0.87,-14.0],[-4.33,-0.88,-14.9],[-4.26,-0.87,-14.3],[-4.19,-0.88,-15.1],[-4.12,-0.87,-14.5],[-4.05,-0.88,-15.0],[-3.98,-0.87,-14.2],[-3.91,-0.88,-15.3],
 [-4.47,-0.93,-14.2],[-4.40,-0.92,-14.9],[-4.33,-0.93,-14.4],[-4.26,-0.92,-15.2],[-4.19,-0.93,-14.6],[-4.12,-0.92,-15.3],[-4.05,-0.93,-14.1],[-3.98,-0.92,-14.9],[-3.91,-0.93,-14.7],
 [-4.47,-0.98,-14.2],[-4.40,-0.97,-14.6],[-4.33,-0.98,-13.9],[-4.26,-0.97,-14.8],[-4.19,-0.98,-14.3],[-4.12,-0.97,-15.0],[-4.05,-0.98,-14.1],[-3.98,-0.97,-14.7],[-3.91,-0.98,-14.4],
 [-4.47,-1.03,-14.7],[-4.40,-1.02,-14.0],[-4.33,-1.03,-14.9],[-4.26,-1.02,-14.4],[-4.19,-1.03,-15.1],[-4.12,-1.02,-14.2],[-4.05,-1.03,-14.8],[-3.98,-1.02,-14.5],[-3.91,-1.03,-15.0],
 [-4.47,-1.08,-14.4],[-4.40,-1.07,-14.9],[-4.33,-1.08,-14.1],[-4.26,-1.07,-14.6],[-4.19,-1.08,-15.2],[-4.12,-1.07,-14.3],[-4.05,-1.08,-14.9],[-3.98,-1.07,-14.6],[-3.91,-1.08,-14.2],
 [-4.47,-1.13,-14.8],[-4.40,-1.12,-14.3],[-4.33,-1.13,-15.0],[-4.26,-1.12,-14.5],[-4.19,-1.13,-14.7],[-4.12,-1.12,-15.2],[-4.05,-1.13,-14.4],[-3.98,-1.12,-14.9],[-3.91,-1.13,-14.6],
 [-4.47,-1.18,-14.5],[-4.40,-1.17,-15.0],[-4.33,-1.18,-14.2],[-4.26,-1.17,-14.9],[-4.19,-1.18,-14.4],[-4.12,-1.17,-15.1],[-4.05,-1.18,-14.6],[-3.98,-1.17,-15.3],[-3.91,-1.18,-14.7],
 [-4.47,-1.23,-14.9],[-4.40,-1.22,-14.4],[-4.33,-1.23,-15.1],[-4.26,-1.22,-14.6],[-4.19,-1.23,-15.2],[-4.12,-1.22,-14.5],[-4.05,-1.23,-15.0],[-3.98,-1.22,-14.7],[-3.91,-1.23,-15.2],
 [-4.47,-1.28,-14.6],[-4.40,-1.27,-15.1],[-4.33,-1.28,-14.4],[-4.26,-1.27,-15.0],[-4.19,-1.28,-14.6],[-4.12,-1.27,-15.3],[-4.05,-1.28,-14.8],[-3.98,-1.27,-15.1],[-3.91,-1.28,-14.6],
 [-4.47,-1.33,-15.0],[-4.40,-1.32,-14.5],[-4.33,-1.33,-15.2],[-4.26,-1.32,-14.7],[-4.19,-1.33,-15.3],[-4.12,-1.32,-14.6],[-4.05,-1.33,-15.1],[-3.98,-1.32,-14.8],[-3.91,-1.33,-15.4],
 [-4.47,-1.38,-14.7],[-4.40,-1.37,-15.2],[-4.33,-1.38,-14.5],[-4.26,-1.37,-15.1],[-4.19,-1.38,-14.7],[-4.12,-1.37,-15.4],[-4.05,-1.38,-14.9],[-3.98,-1.37,-15.2],[-3.91,-1.38,-14.7],
 [-4.47,-1.43,-15.1],[-4.40,-1.42,-14.6],[-4.33,-1.43,-15.3],[-4.26,-1.42,-14.8],[-4.19,-1.43,-15.4],[-4.12,-1.42,-14.7],[-4.05,-1.43,-15.2],[-3.98,-1.42,-14.9],[-3.91,-1.43,-15.5],
 [-4.47,-1.48,-14.8],[-4.40,-1.47,-15.3],[-4.33,-1.48,-14.6],[-4.26,-1.47,-15.2],[-4.19,-1.48,-14.8],[-4.12,-1.47,-15.5],[-4.05,-1.48,-15.0],[-3.98,-1.47,-15.3],[-3.91,-1.48,-14.8],
 [-4.47,-1.53,-15.2],[-4.40,-1.52,-14.7],[-4.33,-1.53,-15.4],[-4.26,-1.52,-14.9],[-4.19,-1.53,-15.5],[-4.12,-1.52,-14.8],[-4.05,-1.53,-15.3],[-3.98,-1.52,-15.0],[-3.91,-1.53,-15.6],
 [-4.47,-1.58,-14.9],[-4.40,-1.57,-15.4],[-4.33,-1.58,-14.7],[-4.26,-1.57,-15.3],[-4.19,-1.58,-14.9],[-4.12,-1.57,-15.6],[-4.05,-1.58,-15.1],[-3.98,-1.57,-15.4],[-3.91,-1.58,-14.9],
 [-4.47,-1.63,-15.3],[-4.40,-1.62,-14.8],[-4.33,-1.63,-15.5],[-4.26,-1.62,-15.0],[-4.19,-1.63,-15.6],[-4.12,-1.62,-14.9],[-4.05,-1.63,-15.4],[-3.98,-1.62,-15.1],[-3.91,-1.63,-15.7],
 [-4.47,-1.68,-15.0],[-4.40,-1.67,-15.5],[-4.33,-1.68,-14.8],[-4.26,-1.67,-15.4],[-4.19,-1.68,-15.0],[-4.12,-1.67,-15.7],[-4.05,-1.68,-15.2],[-3.98,-1.67,-15.5],[-3.91,-1.68,-15.0],
 [-4.47,-1.73,-15.4],[-4.40,-1.72,-14.9],[-4.33,-1.73,-15.6],[-4.26,-1.72,-15.1],[-4.19,-1.73,-15.7],[-4.12,-1.72,-15.0],[-4.05,-1.73,-15.5],[-3.98,-1.72,-15.2],[-3.91,-1.73,-15.8],
 [-4.47,-1.78,-15.1],[-4.40,-1.77,-15.6],[-4.33,-1.78,-14.9],[-4.26,-1.77,-15.5],[-4.19,-1.78,-15.1],[-4.12,-1.77,-15.8],[-4.05,-1.78,-15.3],[-3.98,-1.77,-15.6],[-3.91,-1.78,-15.1],
 [-4.47,-1.83,-15.5],[-4.40,-1.82,-15.0],[-4.33,-1.83,-15.7],[-4.26,-1.82,-15.2],[-4.19,-1.83,-15.8],[-4.12,-1.82,-15.1],[-4.05,-1.83,-15.6],[-3.98,-1.82,-15.3],[-3.91,-1.83,-15.9],
 [-4.47,-1.88,-15.2],[-4.40,-1.87,-15.7],[-4.33,-1.88,-15.0],[-4.26,-1.87,-15.6],[-4.19,-1.88,-15.2],[-4.12,-1.87,-15.9],[-4.05,-1.88,-15.4],[-3.98,-1.87,-15.7],[-3.91,-1.88,-15.2],
 [-4.47,-1.93,-15.6],[-4.40,-1.92,-15.1],[-4.33,-1.93,-15.8],[-4.26,-1.92,-15.3],[-4.19,-1.93,-15.9],[-4.12,-1.92,-15.2],[-4.05,-1.93,-15.7],[-3.98,-1.92,-15.4],[-3.91,-1.93,-16.0],
 [-4.47,-1.99,-15.3],[-4.40,-1.99,-15.8],[-4.33,-1.99,-15.1],[-4.26,-1.99,-15.7],[-4.19,-1.99,-15.3],[-4.12,-1.99,-16.0],[-4.05,-1.99,-15.5],[-3.98,-1.99,-15.8],[-3.91,-1.99,-15.3]
];

// the crowded block at 1e-6..1e-4, F_DM < 0.3
var crowdedStars = [
 [-5.64,-0.55,-12.8],[-5.40,-0.54,-12.6],[-5.15,-0.55,-12.9],[-4.97,-0.54,-12.7],[-4.85,-0.56,-13.6],[-4.74,-0.55,-13.2],[-4.63,-0.54,-13.9],[-4.55,-0.56,-13.3],[-4.43,-0.57,-14.0],[-4.36,-0.54,-13.5],[-4.27,-0.56,-12.9],[-4.20,-0.55,-14.2],[-4.13,-0.57,-13.7],[-4.06,-0.54,-14.4],[-3.99,-0.56,-13.1],[-3.93,-0.55,-14.6],[-3.86,-0.57,-13.8],[-3.78,-0.55,-14.1],
 [-5.60,-0.60,-13.1],[-5.35,-0.59,-13.3],[-5.10,-0.60,-13.6],[-4.90,-0.60,-13.2],[-4.80,-0.61,-13.8],[-4.69,-0.59,-13.0],[-4.60,-0.61,-14.1],[-4.50,-0.60,-12.7],[-4.39,-0.62,-13.9],[-4.31,-0.60,-14.3],[-4.24,-0.61,-13.4],[-4.16,-0.59,-14.8],[-4.09,-0.61,-13.6],[-4.02,-0.60,-14.2],[-3.95,-0.62,-15.0],[-3.89,-0.60,-13.9],[-3.82,-0.61,-14.5],[-3.73,-0.59,-13.5],
 [-5.63,-0.65,-12.9],[-5.42,-0.66,-13.4],[-5.18,-0.66,-13.5],[-5.06,-0.65,-13.0],[-4.96,-0.67,-13.7],[-4.86,-0.64,-12.6],[-4.76,-0.66,-14.0],[-4.66,-0.65,-13.4],[-4.56,-0.67,-13.8],[-4.47,-0.65,-14.4],[-4.41,-0.66,-13.2],[-4.33,-0.64,-14.6],[-4.26,-0.66,-14.0],[-4.19,-0.65,-13.3],[-4.12,-0.67,-14.9],[-4.05,-0.65,-14.1],[-3.98,-0.66,-13.7],[-3.92,-0.64,-14.7],[-3.85,-0.66,-15.2],[-3.78,-0.65,-14.0],
 [-5.58,-0.70,-13.3],[-5.33,-0.69,-13.0],[-5.13,-0.70,-12.8],[-5.02,-0.72,-13.5],[-4.93,-0.70,-14.1],[-4.83,-0.71,-13.2],[-4.73,-0.69,-13.9],[-4.62,-0.71,-12.9],[-4.53,-0.70,-14.5],[-4.45,-0.72,-13.7],[-4.37,-0.70,-14.2],[-4.29,-0.71,-15.0],[-4.22,-0.69,-13.6],[-4.15,-0.71,-14.4],[-4.08,-0.70,-13.9],[-4.01,-0.72,-14.8],[-3.94,-0.70,-13.4],[-3.88,-0.71,-14.9],[-3.80,-0.70,-15.4],[-3.72,-0.71,-14.0],
 [-5.62,-0.75,-12.7],[-5.50,-0.76,-13.5],[-5.38,-0.74,-13.1],[-5.26,-0.76,-12.9],[-5.14,-0.75,-13.7],[-5.04,-0.77,-13.3],[-4.95,-0.75,-14.0],[-4.85,-0.76,-12.8],[-4.76,-0.74,-13.6],[-4.67,-0.76,-14.2],[-4.58,-0.75,-13.4],[-4.50,-0.77,-14.7],[-4.42,-0.75,-13.9],[-4.35,-0.76,-14.5],[-4.27,-0.74,-13.3],[-4.20,-0.76,-15.1],[-4.13,-0.75,-14.3],[-4.06,-0.77,-13.8],[-3.99,-0.75,-15.3],[-3.92,-0.76,-14.6],[-3.85,-0.74,-13.6],[-3.77,-0.76,-15.0],
 [-5.57,-0.80,-13.2],[-5.45,-0.81,-13.8],[-5.32,-0.79,-12.6],[-5.20,-0.81,-13.4],[-5.09,-0.80,-13.0],[-4.99,-0.82,-14.1],[-4.90,-0.80,-13.5],[-4.80,-0.81,-12.9],[-4.71,-0.79,-14.3],[-4.62,-0.81,-13.7],[-4.54,-0.80,-14.8],[-4.46,-0.82,-13.1],[-4.39,-0.80,-14.4],[-4.31,-0.81,-15.2],[-4.24,-0.79,-14.0],[-4.17,-0.81,-13.5],[-4.10,-0.80,-14.7],[-4.03,-0.82,-15.5],[-3.96,-0.80,-14.2],[-3.89,-0.81,-13.9],[-3.81,-0.79,-14.9],
 [-5.64,-0.85,-13.0],[-5.52,-0.86,-13.6],[-5.40,-0.84,-12.8],[-5.29,-0.86,-13.9],[-5.17,-0.85,-13.3],[-5.06,-0.87,-12.7],[-4.97,-0.85,-14.2],[-4.87,-0.86,-13.6],[-4.78,-0.84,-14.6],[-4.69,-0.86,-13.1],[-4.60,-0.85,-14.0],[-4.51,-0.87,-15.0],[-4.44,-0.85,-13.8],[-4.36,-0.86,-14.6],[-4.29,-0.84,-13.4],[-4.22,-0.86,-15.3],[-4.15,-0.85,-14.1],[-4.08,-0.87,-14.8],[-4.01,-0.85,-13.7],[-3.94,-0.86,-15.6],[-3.87,-0.84,-14.4],[-3.80,-0.86,-13.9],[-3.72,-0.85,-14.7],
 [-5.60,-0.90,-13.4],[-5.48,-0.91,-12.9],[-5.36,-0.89,-13.7],[-5.24,-0.91,-13.2],[-5.13,-0.90,-14.0],[-5.02,-0.92,-13.5],[-4.93,-0.90,-12.9],[-4.83,-0.91,-14.3],[-4.74,-0.89,-13.8],[-4.65,-0.91,-14.9],[-4.57,-0.90,-13.5],[-4.49,-0.92,-14.4],[-4.41,-0.90,-15.1],[-4.34,-0.91,-13.9],[-4.27,-0.89,-14.7],[-4.20,-0.91,-14.1],[-4.13,-0.90,-15.4],[-4.06,-0.92,-14.5],[-3.99,-0.90,-13.8],[-3.92,-0.91,-15.0],[-3.85,-0.89,-14.3],[-3.78,-0.91,-15.7],
 [-5.63,-0.95,-13.1],[-5.51,-0.96,-13.7],[-5.39,-0.94,-12.6],[-5.27,-0.96,-13.6],[-5.15,-0.95,-14.1],[-5.05,-0.97,-13.3],[-4.95,-0.95,-14.5],[-4.86,-0.96,-13.9],[-4.77,-0.94,-14.2],[-4.68,-0.96,-15.0],[-4.59,-0.95,-13.6],[-4.51,-0.97,-14.7],[-4.44,-0.95,-15.3],[-4.37,-0.96,-14.0],[-4.30,-0.94,-14.8],[-4.23,-0.96,-15.5],[-4.16,-0.95,-14.3],[-4.09,-0.97,-13.9],[-4.02,-0.95,-15.1],[-3.95,-0.96,-14.6],[-3.88,-0.94,-15.6],[-3.81,-0.96,-14.2],
 [-5.58,-1.00,-13.5],[-5.46,-1.01,-13.0],[-5.34,-0.99,-13.8],[-5.22,-1.01,-14.2],[-5.11,-1.00,-13.4],[-5.00,-1.02,-14.6],[-4.91,-1.00,-13.9],[-4.82,-1.01,-14.4],[-4.73,-0.99,-15.1],[-4.64,-1.01,-14.0],[-4.56,-1.00,-14.8],[-4.48,-1.02,-13.7],[-4.40,-1.00,-15.4],[-4.33,-1.01,-14.5],[-4.26,-0.99,-15.0],[-4.19,-1.01,-14.2],[-4.12,-1.00,-15.5],[-4.05,-1.02,-14.9],[-3.98,-1.00,-14.3],[-3.91,-1.01,-15.5],[-3.83,-0.99,-14.8],
 [-5.61,-1.05,-13.3],[-5.49,-1.06,-13.9],[-5.37,-1.04,-13.1],[-5.25,-1.06,-13.7],[-5.13,-1.05,-14.3],[-5.03,-1.07,-13.6],[-4.93,-1.05,-14.9],[-4.84,-1.06,-14.1],[-4.75,-1.04,-14.7],[-4.66,-1.06,-15.3],[-4.58,-1.05,-14.4],[-4.50,-1.07,-15.0],[-4.43,-1.05,-14.2],[-4.36,-1.06,-15.4],[-4.29,-1.04,-14.8],[-4.22,-1.06,-15.2],[-4.15,-1.05,-14.5],[-4.08,-1.07,-15.5],[-4.01,-1.05,-14.9],[-3.94,-1.06,-15.4],[-3.87,-1.04,-14.1],[-3.80,-1.06,-15.1],
 [-5.56,-1.10,-13.6],[-5.44,-1.11,-13.2],[-5.32,-1.09,-14.0],[-5.20,-1.11,-13.5],[-5.09,-1.10,-14.4],[-4.98,-1.12,-13.8],[-4.89,-1.10,-15.0],[-4.80,-1.11,-14.3],[-4.71,-1.09,-13.9],[-4.62,-1.11,-15.5],[-4.54,-1.10,-14.1],[-4.46,-1.12,-15.2],[-4.39,-1.10,-14.6],[-4.32,-1.11,-15.2],[-4.25,-1.09,-14.4],[-4.18,-1.11,-14.9],[-4.11,-1.10,-15.6],[-4.04,-1.12,-14.3],[-3.97,-1.10,-15.3],[-3.90,-1.11,-14.7],[-3.82,-1.09,-15.3],
 [-5.60,-1.15,-13.4],[-5.47,-1.16,-14.0],[-5.35,-1.14,-13.6],[-5.23,-1.16,-14.2],[-5.12,-1.15,-13.9],[-5.01,-1.17,-14.5],[-4.92,-1.15,-14.0],[-4.83,-1.16,-15.1],[-4.74,-1.14,-14.6],[-4.65,-1.16,-14.2],[-4.57,-1.15,-14.8],[-4.49,-1.17,-15.3],[-4.42,-1.15,-14.5],[-4.35,-1.16,-15.1],[-4.28,-1.14,-14.6],[-4.21,-1.16,-15.5],[-4.14,-1.15,-14.7],[-4.07,-1.17,-15.4],[-4.00,-1.15,-14.8],[-3.93,-1.16,-15.0],[-3.86,-1.14,-14.9],[-3.78,-1.16,-15.4],
 [-5.57,-1.20,-13.7],[-5.45,-1.21,-13.3],[-5.33,-1.19,-14.1],[-5.21,-1.21,-13.8],[-5.10,-1.20,-14.6],[-4.99,-1.22,-14.2],[-4.90,-1.20,-14.9],[-4.81,-1.21,-14.4],[-4.72,-1.19,-15.2],[-4.63,-1.21,-14.7],[-4.55,-1.20,-15.6],[-4.47,-1.22,-14.3],[-4.40,-1.20,-15.4],[-4.33,-1.21,-14.6],[-4.26,-1.19,-15.2],[-4.19,-1.21,-14.8],[-4.12,-1.20,-15.2],[-4.05,-1.22,-14.5],[-3.98,-1.20,-15.5],[-3.91,-1.21,-15.0],[-3.84,-1.19,-14.4],
 [-5.61,-1.25,-13.5],[-5.49,-1.26,-14.1],[-5.37,-1.24,-13.4],[-5.25,-1.26,-14.3],[-5.14,-1.25,-13.9],[-5.03,-1.27,-14.7],[-4.94,-1.25,-14.2],[-4.85,-1.26,-15.0],[-4.76,-1.24,-14.5],[-4.67,-1.26,-15.3],[-4.59,-1.25,-14.0],[-4.51,-1.27,-15.1],[-4.44,-1.25,-15.1],[-4.37,-1.26,-14.6],[-4.30,-1.24,-15.0],[-4.23,-1.26,-14.4],[-4.16,-1.25,-15.6],[-4.09,-1.27,-15.0],[-4.02,-1.25,-14.6],[-3.95,-1.26,-15.5],[-3.88,-1.24,-15.2],[-3.80,-1.26,-14.7],
 [-5.58,-1.30,-13.8],[-5.46,-1.31,-13.4],[-5.34,-1.29,-14.2],[-5.22,-1.31,-13.7],[-5.11,-1.30,-14.5],[-5.00,-1.32,-14.0],[-4.91,-1.30,-14.8],[-4.82,-1.31,-15.2],[-4.73,-1.29,-14.3],[-4.64,-1.31,-15.5],[-4.56,-1.30,-14.6],[-4.48,-1.32,-15.2],[-4.41,-1.30,-14.9],[-4.34,-1.31,-15.4],[-4.27,-1.29,-15.0],[-4.20,-1.31,-14.4],[-4.13,-1.30,-15.4],[-4.06,-1.32,-15.4],[-3.99,-1.30,-14.8],[-3.92,-1.31,-15.6],[-3.85,-1.29,-15.1],
 [-5.62,-1.35,-13.6],[-5.50,-1.36,-14.2],[-5.38,-1.34,-13.5],[-5.26,-1.36,-14.4],[-5.15,-1.35,-14.0],[-5.04,-1.37,-14.8],[-4.95,-1.35,-14.3],[-4.86,-1.36,-15.1],[-4.77,-1.34,-14.7],[-4.68,-1.36,-15.6],[-4.60,-1.35,-14.4],[-4.52,-1.37,-15.3],[-4.45,-1.35,-15.0],[-4.38,-1.36,-14.6],[-4.31,-1.34,-15.6],[-4.24,-1.36,-15.1],[-4.17,-1.35,-14.5],[-4.10,-1.37,-15.5],[-4.03,-1.35,-15.6],[-3.96,-1.36,-15.2],[-3.89,-1.34,-14.9],[-3.81,-1.36,-14.8],
 [-5.59,-1.40,-13.9],[-5.47,-1.41,-13.5],[-5.35,-1.39,-14.3],[-5.23,-1.41,-13.9],[-5.12,-1.40,-14.6],[-5.01,-1.42,-14.1],[-4.92,-1.40,-14.9],[-4.83,-1.41,-15.4],[-4.74,-1.39,-14.8],[-4.65,-1.41,-14.3],[-4.57,-1.40,-15.2],[-4.49,-1.42,-15.4],[-4.42,-1.40,-14.7],[-4.35,-1.41,-15.5],[-4.28,-1.39,-15.7],[-4.21,-1.41,-14.6],[-4.14,-1.40,-15.3],[-4.07,-1.42,-15.6],[-4.00,-1.40,-14.9],[-3.93,-1.41,-15.3],[-3.86,-1.39,-15.5],
 [-5.63,-1.45,-13.7],[-5.51,-1.46,-14.3],[-5.39,-1.44,-13.6],[-5.27,-1.46,-14.5],[-5.16,-1.45,-14.1],[-5.05,-1.47,-14.9],[-4.96,-1.45,-14.4],[-4.87,-1.46,-15.2],[-4.78,-1.44,-14.8],[-4.69,-1.46,-15.7],[-4.61,-1.45,-14.5],[-4.53,-1.47,-15.4],[-4.46,-1.45,-15.5],[-4.39,-1.46,-14.8],[-4.32,-1.44,-15.7],[-4.25,-1.46,-15.2],[-4.18,-1.45,-15.5],[-4.11,-1.47,-15.0],[-4.04,-1.45,-15.8],[-3.97,-1.46,-15.3],[-3.90,-1.44,-15.4],[-3.82,-1.46,-15.0],
 [-5.60,-1.50,-14.0],[-5.48,-1.51,-13.6],[-5.36,-1.49,-14.4],[-5.24,-1.51,-14.0],[-5.13,-1.50,-14.7],[-5.02,-1.52,-14.2],[-4.93,-1.50,-15.0],[-4.84,-1.51,-15.5],[-4.75,-1.49,-14.4],[-4.66,-1.51,-15.8],[-4.58,-1.50,-15.3],[-4.50,-1.52,-14.7],[-4.43,-1.50,-15.6],[-4.36,-1.51,-15.7],[-4.29,-1.49,-15.2],[-4.22,-1.51,-15.3],[-4.15,-1.50,-15.6],[-4.08,-1.52,-15.0],[-4.01,-1.50,-15.8],[-3.94,-1.51,-15.4],[-3.87,-1.49,-15.6],
 [-5.64,-1.55,-13.8],[-5.52,-1.56,-14.4],[-5.40,-1.54,-13.7],[-5.28,-1.56,-14.6],[-5.17,-1.55,-14.2],[-5.06,-1.57,-15.0],[-4.97,-1.55,-14.5],[-4.88,-1.56,-15.3],[-4.79,-1.54,-14.9],[-4.70,-1.56,-15.8],[-4.62,-1.55,-14.6],[-4.54,-1.57,-15.6],[-4.47,-1.55,-15.6],[-4.40,-1.56,-15.0],[-4.33,-1.54,-15.8],[-4.26,-1.56,-15.3],[-4.19,-1.55,-15.8],[-4.12,-1.57,-15.1],[-4.05,-1.55,-16.0],[-3.98,-1.56,-15.4],[-3.91,-1.54,-15.7],[-3.83,-1.56,-15.0],
 [-5.61,-1.60,-14.1],[-5.49,-1.61,-13.7],[-5.37,-1.59,-14.5],[-5.25,-1.61,-14.1],[-5.14,-1.60,-14.8],[-5.03,-1.62,-14.3],[-4.94,-1.60,-15.1],[-4.85,-1.61,-15.6],[-4.76,-1.59,-15.0],[-4.67,-1.61,-15.9],[-4.59,-1.60,-15.4],[-4.51,-1.62,-14.8],[-4.44,-1.60,-15.7],[-4.37,-1.61,-15.8],[-4.30,-1.59,-15.9],[-4.23,-1.61,-15.4],[-4.16,-1.60,-15.9],[-4.09,-1.62,-15.2],[-4.02,-1.60,-16.1],[-3.95,-1.61,-15.5],[-3.88,-1.59,-15.8],
 [-5.65,-1.65,-13.9],[-5.53,-1.66,-14.5],[-5.41,-1.64,-13.8],[-5.29,-1.66,-14.7],[-5.18,-1.65,-14.3],[-5.07,-1.67,-15.1],[-4.98,-1.65,-14.6],[-4.89,-1.66,-15.4],[-4.80,-1.64,-15.0],[-4.71,-1.66,-15.9],[-4.63,-1.65,-15.3],[-4.55,-1.67,-15.8],[-4.48,-1.65,-15.7],[-4.41,-1.66,-15.2],[-4.34,-1.64,-15.9],[-4.27,-1.66,-15.4],[-4.20,-1.65,-15.9],[-4.13,-1.67,-15.8],[-4.06,-1.65,-16.2],[-3.99,-1.66,-15.5],[-3.92,-1.64,-15.8],[-3.84,-1.66,-15.1],
 [-5.62,-1.70,-14.2],[-5.50,-1.71,-13.8],[-5.38,-1.69,-14.6],[-5.26,-1.71,-14.2],[-5.15,-1.70,-14.9],[-5.04,-1.72,-14.4],[-4.95,-1.70,-15.2],[-4.86,-1.71,-14.5],[-4.77,-1.69,-15.1],[-4.68,-1.71,-15.6],[-4.60,-1.70,-14.6],[-4.52,-1.72,-15.9],[-4.45,-1.70,-15.0],[-4.38,-1.71,-15.7],[-4.31,-1.69,-15.4],[-4.24,-1.71,-14.8],[-4.17,-1.70,-15.6],[-4.10,-1.72,-15.3],[-4.03,-1.70,-16.0],[-3.96,-1.71,-15.1],[-3.89,-1.69,-15.8],
 [-5.64,-1.75,-14.0],[-5.52,-1.76,-14.6],[-5.40,-1.74,-13.9],[-5.28,-1.76,-14.8],[-5.17,-1.75,-14.4],[-5.06,-1.77,-15.2],[-4.97,-1.75,-14.3],[-4.88,-1.76,-15.5],[-4.79,-1.74,-14.7],[-4.70,-1.76,-15.8],[-4.62,-1.75,-15.0],[-4.54,-1.77,-15.6],[-4.47,-1.75,-14.9],[-4.40,-1.76,-15.9],[-4.33,-1.74,-15.2],[-4.26,-1.76,-15.8],[-4.19,-1.75,-15.0],[-4.12,-1.77,-15.7],[-4.05,-1.75,-16.1],[-3.98,-1.76,-15.3],[-3.91,-1.74,-16.0],[-3.83,-1.76,-15.2],
 [-5.61,-1.80,-14.3],[-5.49,-1.81,-13.9],[-5.37,-1.79,-14.7],[-5.25,-1.81,-14.1],[-5.14,-1.80,-15.0],[-5.03,-1.82,-14.5],[-4.94,-1.80,-14.2],[-4.85,-1.81,-15.4],[-4.76,-1.79,-14.8],[-4.67,-1.81,-15.7],[-4.59,-1.80,-15.1],[-4.51,-1.82,-15.8],[-4.44,-1.80,-15.3],[-4.37,-1.81,-15.8],[-4.30,-1.79,-15.0],[-4.23,-1.81,-15.9],[-4.16,-1.80,-15.5],[-4.09,-1.82,-16.0],[-4.02,-1.80,-15.4],[-3.95,-1.81,-16.0],[-3.88,-1.79,-15.6],
 [-5.65,-1.85,-14.1],[-5.53,-1.86,-14.7],[-5.41,-1.84,-13.7],[-5.29,-1.86,-14.9],[-5.18,-1.85,-14.3],[-5.07,-1.87,-15.1],[-4.98,-1.85,-14.6],[-4.89,-1.86,-15.4],[-4.80,-1.84,-14.5],[-4.71,-1.86,-15.9],[-4.63,-1.85,-15.2],[-4.55,-1.87,-15.6],[-4.48,-1.85,-15.7],[-4.41,-1.86,-15.3],[-4.34,-1.84,-15.6],[-4.27,-1.86,-15.2],[-4.20,-1.85,-16.1],[-4.13,-1.87,-15.6],[-4.06,-1.85,-15.8],[-3.99,-1.86,-15.4],[-3.92,-1.84,-16.2],[-3.84,-1.86,-15.0],
 [-5.62,-1.90,-14.4],[-5.50,-1.91,-14.0],[-5.38,-1.89,-14.8],[-5.26,-1.91,-14.2],[-5.15,-1.90,-15.1],[-5.04,-1.92,-14.6],[-4.95,-1.90,-14.3],[-4.86,-1.91,-15.6],[-4.77,-1.89,-15.0],[-4.68,-1.91,-15.8],[-4.60,-1.90,-15.3],[-4.52,-1.92,-15.6],[-4.45,-1.90,-15.4],[-4.38,-1.91,-15.9],[-4.31,-1.89,-15.7],[-4.24,-1.91,-15.1],[-4.17,-1.90,-16.0],[-4.10,-1.92,-15.8],[-4.03,-1.90,-16.2],[-3.96,-1.91,-15.5],[-3.89,-1.89,-15.7],
 [-5.64,-1.96,-14.2],[-5.52,-1.97,-14.8],[-5.40,-1.95,-14.1],[-5.28,-1.98,-15.0],[-5.17,-1.96,-14.4],[-5.06,-1.98,-15.3],[-4.97,-1.95,-14.6],[-4.88,-1.97,-15.5],[-4.79,-1.95,-15.0],[-4.70,-1.98,-15.9],[-4.62,-1.96,-15.2],[-4.54,-1.98,-15.7],[-4.47,-1.95,-15.5],[-4.40,-1.97,-16.0],[-4.33,-1.95,-15.8],[-4.26,-1.98,-15.3],[-4.19,-1.96,-16.1],[-4.12,-1.98,-15.7],[-4.05,-1.96,-16.4],[-3.98,-1.97,-15.4],[-3.91,-1.95,-15.9],[-3.84,-1.98,-15.0]
];

// single stars that stand out on top of the crowded block
var outlierStars = [
 [-5.62,-1.17,-13.0],[-5.53,-1.24,-12.7],[-5.59,-1.41,-12.9],[-5.39,-1.47,-12.8],
 [-5.44,-1.74,-12.1],[-5.09,-1.78,-12.3],[-4.46,-1.20,-12.0],[-4.52,-1.61,-12.1],[-4.41,-1.67,-12.2],[-4.90,-1.16,-12.4],[-4.77,-1.47,-12.6],[-5.03,-1.52,-12.5],
 [-4.85,-1.52,-12.4],[-4.83,-1.69,-12.5],[-4.68,-0.74,-12.1],[-5.06,-0.68,-12.3],[-5.49,-0.79,-12.2],[-5.27,-0.66,-12.0],[-5.47,-0.61,-12.4],[-5.36,-1.15,-12.5],
 [-5.42,-1.19,-12.6],[-5.25,-1.10,-12.0],[-4.37,-1.06,-12.1],[-4.21,-1.08,-12.4],[-3.96,-1.23,-12.0],[-4.26,-1.37,-12.2],[-4.14,-1.53,-12.4],[-4.24,-1.52,-12.2],
 [-3.76,-1.43,-12.4],[-4.03,-1.62,-12.2],[-3.94,-1.60,-12.6],[-4.08,-1.70,-12.1],[-4.19,-1.79,-12.5],[-3.85,-1.94,-12.6],[-4.06,-0.69,-12.3],[-4.04,-0.77,-12.2],
 [-3.82,-0.70,-12.5],[-4.26,-0.70,-12.6],
 [-4.07,-1.44,-16.3],[-3.89,-1.70,-16.5],[-3.85,-1.83,-16.8],[-3.97,-1.79,-16.6],[-3.93,-1.97,-16.7],[-4.14,-1.90,-16.2],[-4.31,-1.95,-16.0],[-4.57,-1.35,-15.8],
 [-4.56,-1.90,-16.3],[-4.47,-1.87,-16.4],[-4.74,-1.98,-16.0],[-4.69,-1.55,-15.6]
];

var xTickExps = [-7, -6, -5, -4, -3];
var yTickExps = [-2, -1, 0, 1, 2];
var colorTicks = [-16, -15, -14, -13, -12];
var colorRange = [-16.77, -11.87];
var xLogRange = [-7.344, -2.673];
var yLogRange = [-2.043, 2.689];
var mixingBound = 5.8e-4;   // excluded region
var fObs = 1;               // observed DM abundance

// ---- layout ----
var W = 1562, H = 1231;
var plot = {left: 166, right: 1266, top: 5, bottom: 1104};
var cbar = {left: 1340, width: 54, top: 5, bottom: 1103};

function p10(v) { return Math.pow(10, v); }
function minus(v) { return v < 0 ? "\u2212" + (-v) : "" + v; }

var x = d3.scaleLog().domain(xLogRange.map(p10)).range([plot.left, plot.right]);
var y = d3.scaleLog().domain(yLogRange.map(p10)).range([plot.bottom, plot.top]);
var color = d3.scaleSequential(d3.interpolateViridis).domain(colorRange);
var cy = d3.scaleLinear().domain(colorRange).range([cbar.bottom, cbar.top]);

var svg = d3.select("body").append("svg")
  .attr("width", W).attr("height", H)
  .attr("viewBox", "0 0 " + W + " " + H);

var defs = svg.append("defs");
defs.append("clipPath").attr("id", "clip")
  .append("rect")
  .attr("x", plot.left).attr("y", plot.top)
  .attr("width", plot.right - plot.left).attr("height", plot.bottom - plot.top);

// excluded band
svg.append("rect")
  .attr("x", x(mixingBound)).attr("y", plot.top)
  .attr("width", plot.right - x(mixingBound)).attr("height", plot.bottom - plot.top)
  .attr("fill", "#b8bec6");
svg.append("line")
  .attr("x1", x(mixingBound)).attr("x2", x(mixingBound))
  .attr("y1", plot.top).attr("y2", plot.bottom)
  .attr("stroke", "#a2abb6").attr("stroke-width", 3);

var marks = svg.append("g").attr("clip-path", "url(#clip)");

// grey squares
var sq = 11.5;
marks.append("g").selectAll("rect")
  .data(greySquares)
  .join("rect")
  .attr("x", function(d) { return x(p10(d[0])) - sq / 2; })
  .attr("y", function(d) { return y(p10(d[1])) - sq / 2; })
  .attr("width", sq).attr("height", sq)
  .attr("rx", 2.5)
  .attr("fill", "#7f7f7f");

// stars (fat, rounded like the matplotlib '*' marker)
var star = d3.symbol().type(d3.symbolStar).size(64);
function drawStars(data) {
  marks.append("g").selectAll("path")
    .data(data)
    .join("path")
    .attr("d", star)
    .attr("transform", function(d) { return "translate(" + x(p10(d[0])) + "," + y(p10(d[1])) + ")"; })
    .attr("fill", function(d) { return color(d[2]); })
    .attr("stroke", function(d) { return color(d[2]); })
    .attr("stroke-width", 3.2)
    .attr("stroke-linejoin", "round");
}
drawStars(sparseStars);
drawStars(gapStarsLeft);
drawStars(gapStarsRight);
drawStars(crowdedStars);
drawStars(outlierStars);

// observed abundance line
marks.append("line")
  .attr("x1", plot.left).attr("x2", plot.right)
  .attr("y1", y(fObs)).attr("y2", y(fObs))
  .attr("stroke", "#dc143c").attr("stroke-width", 9)
  .attr("stroke-dasharray", "65.5,17,10,17")
  .attr("stroke-dashoffset", 90);

// frame
svg.append("rect")
  .attr("x", plot.left).attr("y", plot.top)
  .attr("width", plot.right - plot.left).attr("height", plot.bottom - plot.top)
  .attr("fill", "none").attr("stroke", "#000").attr("stroke-width", 2.5);

// axes ticks
function isPow10(v) { var l = Math.log10(v); return Math.abs(l - Math.round(l)) < 1e-9; }
var xMinor = x.ticks().filter(function(v) { return !isPow10(v); });
var yMinor = y.ticks().filter(function(v) { return !isPow10(v); });

function styleAxis(g) {
  g.select(".domain").remove();
  g.selectAll(".tick line").attr("stroke", "#000").attr("stroke-width", 2.2);
  g.selectAll(".tick text").remove();
}
svg.append("g").attr("transform", "translate(0," + plot.bottom + ")")
  .call(d3.axisBottom(x).tickValues(xTickExps.map(p10)).tickSize(14)).call(styleAxis);
svg.append("g").attr("transform", "translate(0," + plot.bottom + ")")
  .call(d3.axisBottom(x).tickValues(xMinor).tickSize(8)).call(styleAxis);
svg.append("g").attr("transform", "translate(" + plot.left + ",0)")
  .call(d3.axisLeft(y).tickValues(yTickExps.map(p10)).tickSize(14)).call(styleAxis);
svg.append("g").attr("transform", "translate(" + plot.left + ",0)")
  .call(d3.axisLeft(y).tickValues(yMinor).tickSize(8)).call(styleAxis);

// tick labels 10^n
svg.append("g").selectAll("text")
  .data(xTickExps)
  .join("text")
  .attr("x", function(d) { return x(p10(d)); })
  .attr("y", 1163)
  .attr("text-anchor", "middle")
  .attr("font-size", 39)
  .each(function(d) {
    var t = d3.select(this);
    t.append("tspan").text("10");
    t.append("tspan").attr("dy", -17).attr("dx", 1).attr("font-size", 28).text(minus(d));
  });

svg.append("g").selectAll("text")
  .data(yTickExps)
  .join("text")
  .attr("x", 148)
  .attr("y", function(d) { return y(p10(d)) + 15; })
  .attr("text-anchor", "end")
  .attr("font-size", 39)
  .each(function(d) {
    var t = d3.select(this);
    t.append("tspan").text("10");
    t.append("tspan").attr("dy", -17).attr("dx", 1).attr("font-size", 28).text(minus(d));
  });

// axis labels
var xl = svg.append("text").attr("x", 682).attr("y", 1209).attr("font-size", 39);
xl.append("tspan").text("\u2211");
xl.append("tspan").attr("dx", 4).text("|");
xl.append("tspan").attr("font-style", "italic").text("U");
xl.append("tspan").attr("dy", 9).attr("font-size", 28).attr("font-style", "italic").text("\u03b1N");
xl.append("tspan").attr("dy", -9).text("|");
xl.append("tspan").attr("dy", -16).attr("font-size", 28).text("2");

var yl = svg.append("text").attr("transform", "translate(40,556) rotate(-90)")
  .attr("text-anchor", "middle").attr("font-size", 40);
yl.append("tspan").attr("font-family", "DejaVu Serif").attr("font-style", "italic").text("\u2131");
yl.append("tspan").attr("dy", 9).attr("font-size", 29).text("DM");

// F_DM^obs box
svg.append("rect")
  .attr("x", 184).attr("y", 516).attr("width", 148).attr("height", 100)
  .attr("rx", 14).attr("fill", "#fff").attr("stroke", "#333").attr("stroke-width", 3);
svg.append("text").attr("x", 200).attr("y", 586).attr("font-size", 50)
  .attr("font-family", "DejaVu Serif").attr("font-style", "italic").text("\u2131");
svg.append("text").attr("x", 251).attr("y", 561).attr("font-size", 37).text("obs");
svg.append("text").attr("x", 247).attr("y", 599).attr("font-size", 37).text("DM");

// bound annotation box
svg.append("rect")
  .attr("x", 1143).attr("y", 465).attr("width", 70).attr("height", 627)
  .attr("rx", 12).attr("fill", "#fff").attr("fill-opacity", 0.8)
  .attr("stroke", "#333").attr("stroke-width", 3);
var bt = svg.append("text").attr("transform", "translate(1178,778) rotate(90)")
  .attr("y", 12).attr("text-anchor", "middle").attr("font-size", 42)
  .attr("word-spacing", 6);
bt.append("tspan").text("\u2211|");
bt.append("tspan").attr("font-style", "italic").text("U");
bt.append("tspan").attr("dy", 9).attr("font-size", 29).attr("font-style", "italic").text("\u03b1N");
bt.append("tspan").attr("dy", -9).text("|");
bt.append("tspan").attr("dy", -17).attr("font-size", 29).text("2");
bt.append("tspan").attr("dy", 17).text(" < 5.8 \u00b7 10");
bt.append("tspan").attr("dy", -17).attr("font-size", 29).text("\u22124");
bt.append("tspan").attr("dy", 17).text(" at 95% CL");

// colorbar
var grad = defs.append("linearGradient").attr("id", "viridis")
  .attr("x1", 0).attr("y1", 1).attr("x2", 0).attr("y2", 0);
grad.selectAll("stop")
  .data(d3.range(0, 1.0001, 0.05))
  .join("stop")
  .attr("offset", function(d) { return d; })
  .attr("stop-color", function(d) { return d3.interpolateViridis(d); });

svg.append("rect")
  .attr("x", cbar.left).attr("y", cbar.top)
  .attr("width", cbar.width).attr("height", cbar.bottom - cbar.top)
  .attr("fill", "url(#viridis)")
  .attr("stroke", "#000").attr("stroke-width", 2.2);

var cbAxis = svg.append("g").attr("transform", "translate(" + (cbar.left + cbar.width) + ",0)")
  .call(d3.axisRight(cy).tickValues(colorTicks).tickSize(12));
cbAxis.select(".domain").remove();
cbAxis.selectAll(".tick line").attr("stroke", "#000").attr("stroke-width", 2.2);
cbAxis.selectAll(".tick text").remove();

svg.append("g").selectAll("text")
  .data(colorTicks)
  .join("text")
  .attr("x", 1416)
  .attr("y", function(d) { return cy(d) + 13; })
  .attr("font-size", 39)
  .each(function(d) {
    var t = d3.select(this);
    t.append("tspan").attr("font-size", 44).text("\u2212");
    t.append("tspan").attr("dx", 3).text(-d);
  });

var cl = svg.append("text").attr("transform", "translate(1542,547) rotate(-90)")
  .attr("text-anchor", "middle").attr("font-size", 38);
cl.append("tspan").text("log");
cl.append("tspan").attr("dy", 9).attr("font-size", 27).text("10");
cl.append("tspan").attr("dy", -9).text(" sin");
cl.append("tspan").attr("dy", -16).attr("font-size", 27).text("2");
cl.append("tspan").attr("dy", 16).attr("font-style", "italic").text(" \u03b8");
cl.append("tspan").attr("dy", 9).attr("font-size", 27).attr("font-style", "italic").text("\u03b1");
cl.append("tspan").attr("font-size", 27).text("DM");
</script>
</body>
</html>
